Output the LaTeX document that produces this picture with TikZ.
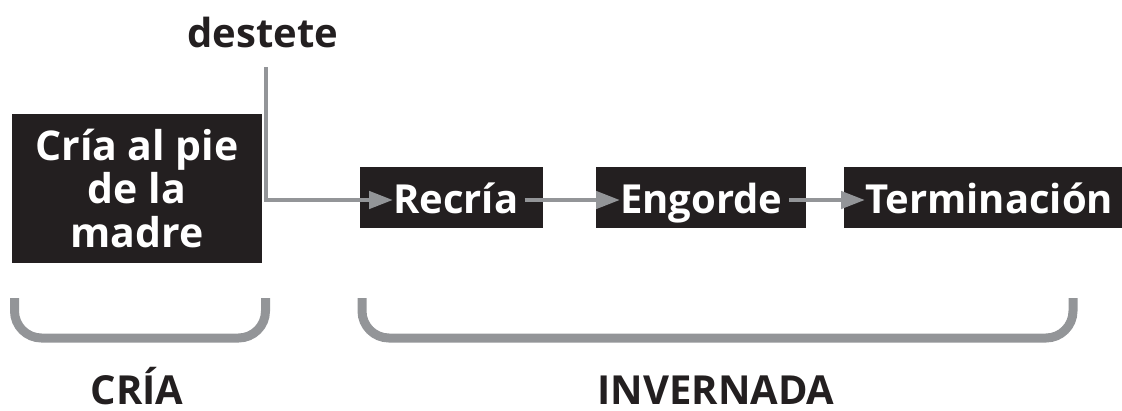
\documentclass[tikz,border=0pt]{standalone}
\usepackage{fontspec}
\setmainfont{Open Sans}
\usetikzlibrary{arrows.meta}
\definecolor{boxblack}{HTML}{231F20}
\definecolor{lgray}{HTML}{939598}
\tikzset{
  blackbox/.style={fill=boxblack, draw=none, inner sep=0pt},
  boxtext/.style={text=white, inner sep=0pt, text height=26pt, text depth=0pt, anchor=base west, font=\bfseries\fontsize{40}{43.5}\selectfont},
  plain/.style={text=boxblack, inner sep=0pt, anchor=base, font=\bfseries\fontsize{40}{43.5}\selectfont},
  conn/.style={draw=lgray, line width=4.5pt, -{Triangle[length=24pt,width=17pt]}},
  brk/.style={draw=lgray, line width=9pt, rounded corners=27pt}
}
\begin{document}
\begin{tikzpicture}[x=1pt,y=-1pt]
\useasboundingbox (0,0) rectangle (1122,410);
% boxes
\node[blackbox, minimum width=250pt, minimum height=149pt] (cria) at (137,188.5) {};
\node[text=white, inner sep=0pt, anchor=base, align=center, font=\bfseries\fontsize{41}{43.5}\selectfont] (criaT) at (137,247) {Cría al pie\\de la\\madre};
\node[blackbox, minimum width=183pt, minimum height=61pt] (recria) at (451.5,197.5) {};
\node[blackbox, minimum width=210pt, minimum height=61pt] (engorde) at (701,197.5) {};
\node[blackbox, minimum width=278pt, minimum height=61pt] (termin) at (983,197.5) {};
\node[boxtext] (recriaT) at (393,213) {Recría};
\node[boxtext] (engordeT) at (620,213) {Engorde};
\node[boxtext] (terminT) at (865,213) {Terminación};
% destete
\node[plain] (destete) at (263,47) {destete};
\coordinate (w) at (266,67);
\draw[conn] (w) |- (recriaT.west);
\draw[conn] ([xshift=6pt]recriaT.east) -- (engordeT.west);
\draw[conn] ([xshift=6pt]engordeT.east) -- (terminT.west);
% brackets
\draw[brk] (14.5,298) -- (14.5,338) -- (265.5,338) -- (265.5,298);
\draw[brk] (362,298) -- (362,338) -- (1073,338) -- (1073,298);
\node[plain] (criaL) at (137,404) {CRÍA};
\node[plain] (invL) at (716,404) {INVERNADA};
\end{tikzpicture}
\end{document}
